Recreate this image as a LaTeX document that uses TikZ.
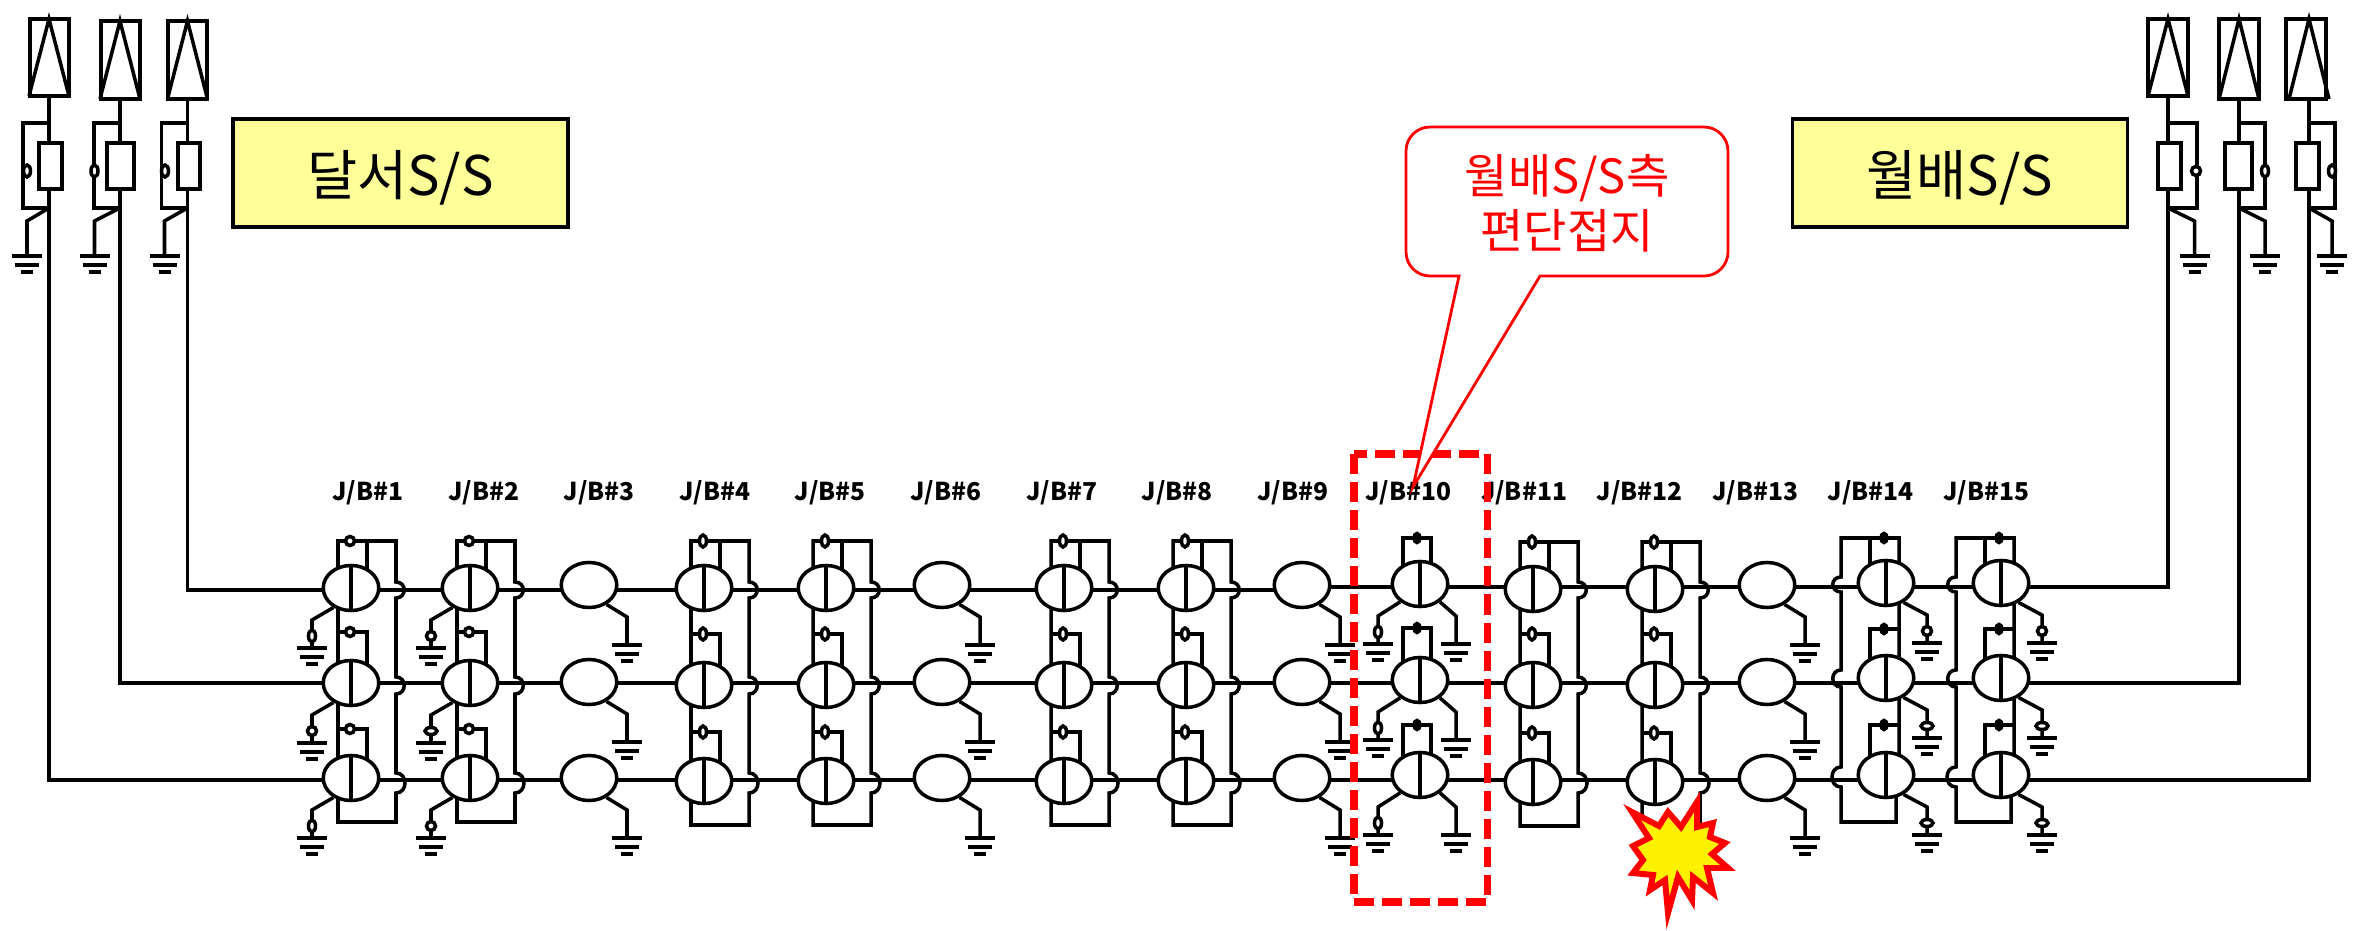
\documentclass[tikz,border=0pt]{standalone}
\usepackage{fontspec}
\setmainfont{Noto Sans CJK KR}
\usetikzlibrary{shapes.geometric,calc}
\definecolor{boxyellow}{HTML}{FFFF99}

\tikzset{
    wire/.style={line width=1pt},
    jbox/.style={ellipse,draw,fill=white,line width=1pt,minimum width=0.555cm,minimum height=0.45cm,inner sep=0pt},
    swbase/.style={ellipse,draw,fill=white,line width=1pt,inner sep=0pt},
    swv/.style={swbase,minimum width=0.07cm,minimum height=0.12cm},
    swc/.style={swbase,minimum width=0.09cm,minimum height=0.09cm},
    swh/.style={swbase,minimum width=0.12cm,minimum height=0.07cm},
    swd/.style={swbase,fill=black,minimum width=0.06cm,minimum height=0.09cm},
    sname/.style={draw,fill=boxyellow,line width=1pt,minimum width=3.35cm,minimum height=1.08cm,text depth=0pt,font=\fontsize{15.5}{17}\selectfont},
    jblabel/.style={font=\fontsize{7}{8}\selectfont\bfseries},
    gnd/.pic={\draw[wire] (-15,0) -- (15,0) (-12,9) -- (12,9) (-6,16) -- (6,16);},
}

% ellipse with its split line
\newcommand{\jbnode}[3]{
    \node[jbox] (#1) at (#2,#3) {};
    \draw[wire] (#1.north) -- (#1.south);
}
% earth wire from an ellipse
\newcommand{\earth}[3]{
    \draw[wire] (#1.#2) -- ($(#1)+(#3,32)$) -- ($(#1)+(#3,60)$);
    \pic at ($(#1)+(#3,60)$) {gnd};
}
\newcommand{\earthsw}[4]{
    \earth{#1}{#2}{#3}
    \node[#4] (#1s) at ($(#1)+(#3,48)$) {};
}
% bonded box, bus on the right: name, x, three rows, switch style
\newcommand{\jbA}[6]{
    \draw[wire] (#2-13,#5+44) -- (#2-13,#3-47) -- (#2+45,#3-47) -- (#2+45,582)
        .. controls +(11,0) and +(11,0) .. (#2+45,598) -- (#2+45,677)
        .. controls +(11,0) and +(11,0) .. (#2+45,694) -- (#2+45,773)
        .. controls +(12,0) and +(12,0) .. (#2+45,793) -- (#2+45,#5+44) -- cycle;
    \draw[wire] (#2+16,#3-47) -- (#2+16,#3);
    \draw[wire] (#2-13,#4-51) -- (#2+16,#4-51) -- (#2+16,#4);
    \draw[wire] (#2-13,#5-49) -- (#2+16,#5-49) -- (#2+16,#5);
    \jbnode{J#1a}{#2}{#3}
    \jbnode{J#1b}{#2}{#4}
    \jbnode{J#1c}{#2}{#5}
    \node[#6] (S#1a) at (#2-1,#3-47) {};
    \node[#6] (S#1b) at (#2-1,#4-51) {};
    \node[#6] (S#1c) at (#2-1,#5-49) {};
}
% bonded box, bus on the left: name, x
\newcommand{\jbB}[2]{
    \draw[wire] (#2+10,775) -- (#2+10,822) -- (#2-45,822) -- (#2-45,787)
        .. controls +(-12,0) and +(-12,0) .. (#2-45,767) -- (#2-45,687)
        .. controls +(-11,0) and +(-11,0) .. (#2-45,670) -- (#2-45,592)
        .. controls +(-11,0) and +(-11,0) .. (#2-45,577) -- (#2-45,538) -- (#2+13,538) -- (#2+13,775);
    \draw[wire] (#2-16,538) -- (#2-16,583);
    \draw[wire] (#2-16,678) -- (#2-16,629) -- (#2+13,629);
    \draw[wire] (#2-16,775) -- (#2-16,725) -- (#2+13,725);
    \jbnode{J#1a}{#2}{583}
    \jbnode{J#1b}{#2}{678}
    \jbnode{J#1c}{#2}{775}
    \node[swd] (S#1a) at (#2-2,538) {};
    \node[swd] (S#1b) at (#2-2,629) {};
    \node[swd] (S#1c) at (#2-2,725) {};
    \earthsw{J#1a}{-48}{41}{swc}
    \earthsw{J#1b}{-48}{41}{swh}
    \earthsw{J#1c}{-48}{41}{swh}
}
% plain box: name, x
\newcommand{\jbP}[2]{
    \node[jbox] (J#1a) at (#2,585) {};
    \node[jbox] (J#1b) at (#2,682) {};
    \node[jbox] (J#1c) at (#2,778) {};
    \earth{J#1a}{-48}{38}
    \earth{J#1b}{-48}{38}
    \earth{J#1c}{-48}{38}
}

\begin{document}
\begin{tikzpicture}[x=0.01cm,y=-0.01cm]
    \useasboundingbox (0,0) rectangle (2363,931);

    % feeder ends
    \coordinate (Fa) at (187.5,99);
    \coordinate (Fb) at (120,99);
    \coordinate (Fc) at (49,96);
    \coordinate (Ga) at (2168,96);
    \coordinate (Gb) at (2239,99);
    \coordinate (Gc) at (2309,99);
    \coordinate (Ma) at (1302,590);
    \coordinate (Na) at (1302,587);
    \coordinate (Mb) at (2239,683);
    \coordinate (Mc) at (2309,780);

    % three cable rows
    \draw[wire] (Fa) |- (Ma) -- (Na) -| (Ga);
    \draw[wire] (Fb) |- (Mb) -- (Gb);
    \draw[wire] (Fc) |- (Mc) -- (Gc);

    % terminations
    \foreach \nm/\xa/\xb/\ya/\yb/\xf/\ra/\rb/\xp/\xg/\xs/\sw in {
        Ta/30/69/19/96/49/39/62/23/27/27/swv,
        Tb/101/140/21/99/120/107/134/94/94.5/94.5/swv,
        Tc/168/207/21/99/187.5/178/200/161.5/164.5/165/swv,
        Td/2148/2188/19/96/2168/2158/2181/2197/2194.5/2196/swc,
        Te/2219/2259/19/99/2239/2225/2252/2265/2265/2265/swv,
        Tf/2286/2326/19/99/2309/2296/2319/2335/2332/2332/swv} {
        \draw[wire] (\xa,\ya) rectangle (\xb,\yb);
        \draw[wire] (\xf-20,\yb) -- (\xf,\ya) -- (\xf+20,\yb);
        \draw[wire,fill=white] (\ra,143) rectangle (\rb,189);
        \draw[wire] (\xf,123) -- (\xp,123) -- (\xp,208) -- (\xf,208);
        \draw[wire] (\xf,208) -- (\xg,221) -- (\xg,256);
        \node[\sw] (\nm) at (\xs,171) {};
        \pic at (\xg,256) {gnd};
    }

    \node[sname] (Dalseo) at (400.5,173) {달서S/S};
    \node[sname] (Wolbae) at (1960,173) {월배S/S};

    % joint boxes
    \jbA{1}{351}{588}{683}{778}{swc}
    \earthsw{J1a}{-132}{-39}{swv}
    \earthsw{J1b}{-132}{-39}{swc}
    \earthsw{J1c}{-132}{-39}{swv}
    \jbA{2}{470}{588}{683}{778}{swc}
    \earthsw{J2a}{-132}{-39}{swc}
    \earthsw{J2b}{-132}{-39}{swh}
    \earthsw{J2c}{-132}{-39}{swc}
    \jbP{3}{589}
    \jbA{4}{704}{588}{685}{781}{swv}
    \jbA{5}{826}{588}{685}{781}{swv}
    \jbP{6}{942}
    \jbA{7}{1064}{588}{685}{781}{swv}
    \jbA{8}{1186}{588}{685}{781}{swv}
    \jbP{9}{1302}
    \jbP{13}{1767}
    \jbA{11}{1533}{589}{685}{782}{swv}
    \jbA{12}{1655}{589}{685}{782}{swv}
    \jbB{14}{1886}
    \jbB{15}{2001}

    % box with the earth on both sides
    \draw[wire] (1403,584) -- (1403,538) -- (1431,538) -- (1431,584);
    \draw[wire] (1403,680) -- (1403,628) -- (1431,628) -- (1431,680);
    \draw[wire] (1403,775) -- (1403,725) -- (1431,725) -- (1431,775);
    \jbnode{J10a}{1420}{584}
    \jbnode{J10b}{1420}{680}
    \jbnode{J10c}{1420}{775}
    \node[swd] (S10a) at (1417,538) {};
    \node[swd] (S10b) at (1417,628) {};
    \node[swd] (S10c) at (1417,725) {};
    \foreach \rw in {a,b,c} {
        \earthsw{J10\rw}{-138}{-42}{swv}
        \earth{J10\rw}{-42}{36}
    }

    % labels
    \foreach \i in {1,...,15} {
        \node[jblabel] (L\i) at (368+115.6*\i-115.6,493) {J/B\#\i};
    }

    % earthed section
    \draw[red,line width=2pt,dash pattern=on 0.20cm off 0.08cm] (1354,454) rectangle (1487,902);

    % callout
    \draw[red,line width=0.8pt,fill=white] (1459,276) -- (1413,487) -- (1540,276)
        [rounded corners=0.24cm] -- (1728,276) -- (1728,127) -- (1406,127) -- (1406,276) [sharp corners] -- cycle;
    \node[text=red,align=center,font=\fontsize{13.4}{15.6}\selectfont] (Note) at (1567,203) {월배S/S측\\편단접지};

    % fault mark
    \draw[red,fill=yellow,line width=1.7pt,miter limit=10]
        (1632,812) -- (1659,826) -- (1668,812) -- (1681,827) -- (1697,802) -- (1697,827)
        -- (1713,823) -- (1710,837) -- (1725,843) -- (1712,854) -- (1728,868) -- (1707,868)
        -- (1713,893) -- (1693,877) -- (1692,900) -- (1678,877) -- (1668,913) -- (1665,880)
        -- (1650,890) -- (1653,875) -- (1633,873) -- (1643,860) -- (1633,846) -- (1649,838) -- cycle;
\end{tikzpicture}
\end{document}
